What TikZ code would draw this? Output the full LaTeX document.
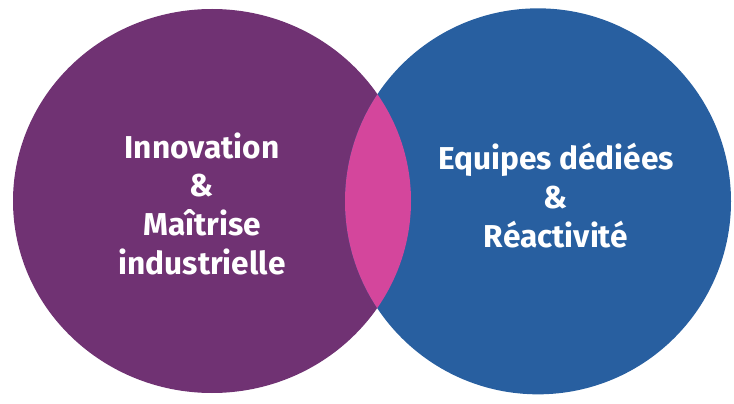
\documentclass[tikz,border=0pt]{standalone}
\usepackage{fontspec}
\setmainfont{Fira Sans}
\usetikzlibrary{positioning}
\definecolor{cPurple}{RGB}{112,50,115}
\definecolor{cBlue}{RGB}{40,95,160}
\definecolor{cPink}{RGB}{212,70,156}

\begin{document}
\begin{tikzpicture}[
  label/.style={align=center, text=white, inner sep=0pt,
                font=\fontsize{27}{33}\selectfont\bfseries}
]

%%=============================================================================
%% Canvas
%%=============================================================================
\useasboundingbox (0,0) rectangle (22.02,12.09);

%% Two sets
\fill[cPurple] (6.36,6.06) ellipse [x radius=5.97, y radius=5.76];
\fill[cBlue]   (16.14,6.05) ellipse [x radius=5.79, y radius=5.79];

%% Overlap (lens)
\begin{scope}
  \clip (6.36,6.06) ellipse [x radius=5.97, y radius=5.76];
  \fill[cPink] (16.14,6.05) ellipse [x radius=5.79, y radius=5.79];
\end{scope}

%% Labels
\node[label] (innov) at (6.06,5.985) {Innovation\\\&\\Maîtrise\\industrielle};
\node[label] (teams) at (16.68,6.225) {Equipes dédiées\\\&\\Réactivité};

\end{tikzpicture}
\end{document}
